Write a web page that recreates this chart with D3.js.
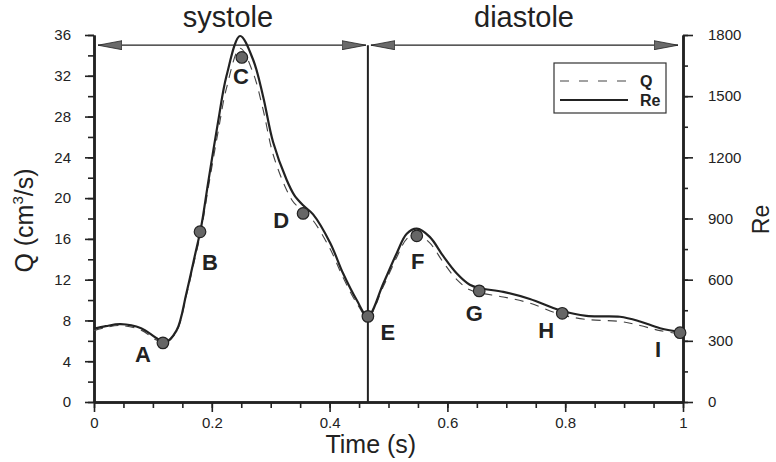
<!DOCTYPE html>
<html>
<head>
<meta charset="utf-8">
<script src="https://cdn.jsdelivr.net/npm/d3@7"></script>
<style>
  body { margin: 0; background: #fff; }
  svg { font-family: 'Liberation Sans', Arial, sans-serif; }
</style>
</head>
<body>
<svg width="776" height="462"></svg>
<script>
// time samples (s)
const time = [0, 0.02, 0.045, 0.08, 0.105, 0.12, 0.14, 0.157, 0.171, 0.182, 0.194, 0.211, 0.225, 0.248, 0.27, 0.287, 0.304, 0.327, 0.34, 0.355, 0.372, 0.401, 0.423, 0.446, 0.465, 0.491, 0.514, 0.531, 0.548, 0.57, 0.593, 0.616, 0.638, 0.655, 0.695, 0.74, 0.791, 0.836, 0.893, 0.927, 0.961, 1.0];
// Reynolds number (right axis)
const reValues = [360, 372, 382, 362, 315, 292, 350, 535, 715, 860, 1080, 1380, 1600, 1795, 1680, 1500, 1275, 1090, 1015, 965, 920, 780, 630, 500, 420, 580, 730, 825, 850, 810, 715, 630, 575, 558, 540, 505, 450, 422, 418, 395, 362, 342];
// flow rate Q (cm^3/s, left axis)
const qValues = [7.0, 7.3, 7.5, 7.05, 6.1, 5.75, 6.9, 10.5, 14.0, 16.8, 21.0, 26.6, 30.8, 34.7, 32.3, 28.7, 24.3, 20.8, 19.5, 18.8, 17.8, 15.0, 12.2, 9.7, 8.3, 11.3, 14.2, 16.0, 16.5, 15.6, 13.7, 12.0, 11.0, 10.7, 10.3, 9.7, 8.6, 8.1, 7.9, 7.5, 7.0, 6.65];

// marked instants A..I
const pointNames = ['A', 'B', 'C', 'D', 'E', 'F', 'G', 'H', 'I'];
const pointTimes = [0.117, 0.18, 0.251, 0.355, 0.465, 0.548, 0.654, 0.795, 0.995];
const pointQ = [5.8, 16.7, 33.8, 18.5, 8.4, 16.3, 10.9, 8.7, 6.8];

// phases
const phases = ['systole', 'diastole'];
const phaseBounds = [[0, 0.465], [0.465, 1]];
const arrowLevel = 35;

const xTicks = [0, 0.2, 0.4, 0.6, 0.8, 1];
const xMinor = d3.range(0, 1.001, 0.05);
const qTicks = d3.range(0, 37, 4);
const qMinor = d3.range(0, 37, 2);
const reTicks = d3.range(0, 1801, 300);
const reMinor = d3.range(0, 1801, 150);

const ink = '#222';
const svg = d3.select('svg');

const x = d3.scaleLinear().domain([0, 1]).range([94, 683]);
const y = d3.scaleLinear().domain([0, 36]).range([402, 35]);
const yRe = d3.scaleLinear().domain([0, 1800]).range([402, 35]);

// minor ticks first
svg.append('g')
  .attr('transform', `translate(0,${y(0)})`)
  .call(d3.axisBottom(x).tickValues(xMinor).tickSize(6).tickSizeOuter(0).tickFormat(''));
svg.append('g')
  .attr('transform', `translate(${x(0)},0)`)
  .call(d3.axisLeft(y).tickValues(qMinor).tickSize(6).tickSizeOuter(0).tickFormat(''));
svg.append('g')
  .attr('transform', `translate(${x(1)},0)`)
  .call(d3.axisRight(yRe).tickValues(reMinor).tickSize(5).tickSizeOuter(0).tickFormat(''));

// major axes
const xAxis = svg.append('g')
  .attr('transform', `translate(0,${y(0)})`)
  .call(d3.axisBottom(x).tickValues(xTicks).tickSize(10).tickPadding(5).tickSizeOuter(0)
    .tickFormat(d => d === 0 || d === 1 ? d : d3.format('.1f')(d)));
const qAxis = svg.append('g')
  .attr('transform', `translate(${x(0)},0)`)
  .call(d3.axisLeft(y).tickValues(qTicks).tickSize(9).tickPadding(14).tickSizeOuter(0));
const reAxis = svg.append('g')
  .attr('transform', `translate(${x(1)},0)`)
  .call(d3.axisRight(yRe).tickValues(reTicks).tickSize(10).tickPadding(15).tickSizeOuter(0)
    .tickFormat(d3.format('d')));

svg.selectAll('.domain').attr('stroke', ink).attr('stroke-width', 2.5);
svg.selectAll('.tick line').attr('stroke', ink).attr('stroke-width', 1.6);
[xAxis, qAxis, reAxis].forEach(a => a.selectAll('text')
  .attr('font-size', 15).attr('fill', ink).attr('font-family', "'Liberation Sans', Arial, sans-serif"));

// axis titles
svg.append('text')
  .attr('x', x(0.47))
  .attr('y', 453)
  .attr('text-anchor', 'middle')
  .attr('font-size', 25)
  .attr('fill', ink)
  .text('Time (s)');

const qLabel = svg.append('text')
  .attr('transform', `translate(33,${y(17.8)}) rotate(-90)`)
  .attr('text-anchor', 'middle')
  .attr('font-size', 25)
  .attr('fill', ink);
qLabel.append('tspan').text('Q (cm');
qLabel.append('tspan').attr('font-size', 15).attr('dy', -10).text('3');
qLabel.append('tspan').attr('dy', 10).text('/s)');

svg.append('text')
  .attr('transform', `translate(769,${yRe(900) + 1}) rotate(-90)`)
  .attr('text-anchor', 'middle')
  .attr('font-size', 23)
  .attr('fill', ink)
  .text('Re');

// phase arrows
svg.append('defs').append('marker')
  .attr('id', 'head')
  .attr('viewBox', '0 0 24 10')
  .attr('refX', 24).attr('refY', 5)
  .attr('markerWidth', 24).attr('markerHeight', 10)
  .attr('markerUnits', 'userSpaceOnUse')
  .attr('orient', 'auto-start-reverse')
  .append('path')
  .attr('d', 'M0,0.5L24,5L0,9.5Z')
  .attr('fill', '#6a6a6a')
  .attr('stroke', ink)
  .attr('stroke-width', 0.8);

svg.selectAll('.phase-arrow')
  .data(phaseBounds)
  .enter()
  .append('line')
  .attr('class', 'phase-arrow')
  .attr('x1', (d, i) => x(d[0]) + (i === 0 ? 4 : 3))
  .attr('x2', (d, i) => x(d[1]) - (i === 0 ? 2 : 5))
  .attr('y1', y(arrowLevel))
  .attr('y2', y(arrowLevel))
  .attr('stroke', ink)
  .attr('stroke-width', 1.2)
  .attr('marker-start', 'url(#head)')
  .attr('marker-end', 'url(#head)');

svg.selectAll('.phase-label')
  .data(phases)
  .enter()
  .append('text')
  .attr('class', 'phase-label')
  .attr('x', (d, i) => i === 0 ? 228 : 524)
  .attr('y', 27)
  .attr('text-anchor', 'middle')
  .attr('font-size', 29)
  .attr('fill', ink)
  .text(d => d);

// separator between phases
svg.append('line')
  .attr('x1', x(phaseBounds[0][1]))
  .attr('x2', x(phaseBounds[0][1]))
  .attr('y1', y(arrowLevel))
  .attr('y2', y(0))
  .attr('stroke', ink)
  .attr('stroke-width', 2);

// curves
const qLine = d3.line()
  .x((d, i) => x(time[i]))
  .y(d => y(d))
  .curve(d3.curveCatmullRom.alpha(0.5));
const reLine = d3.line()
  .x((d, i) => x(time[i]))
  .y(d => yRe(d))
  .curve(d3.curveCatmullRom.alpha(0.5));

svg.append('path')
  .attr('d', qLine(qValues))
  .attr('fill', 'none')
  .attr('stroke', '#444')
  .attr('stroke-width', 1.1)
  .attr('stroke-dasharray', '9,7');

svg.append('path')
  .attr('d', reLine(reValues))
  .attr('fill', 'none')
  .attr('stroke', ink)
  .attr('stroke-width', 2.2);

// points + labels
const labelOffsets = [[-20, 19], [10, 38], [-1, 27], [-22, 15], [20, 24], [1, 33], [-5, 30], [-16, 25], [-22, 24]];
const points = pointNames.map((name, i) => ({ name, t: pointTimes[i], q: pointQ[i], off: labelOffsets[i] }));

svg.selectAll('.pt')
  .data(points)
  .enter()
  .append('circle')
  .attr('class', 'pt')
  .attr('cx', d => x(d.t))
  .attr('cy', d => y(d.q))
  .attr('r', 5.8)
  .attr('fill', '#666')
  .attr('stroke', ink)
  .attr('stroke-width', 1.2);

svg.selectAll('.pt-label')
  .data(points)
  .enter()
  .append('text')
  .attr('class', 'pt-label')
  .attr('x', d => x(d.t) + d.off[0])
  .attr('y', d => y(d.q) + d.off[1])
  .attr('text-anchor', 'middle')
  .attr('font-size', 22)
  .attr('font-weight', 'bold')
  .attr('fill', ink)
  .text(d => d.name);

// legend
const legend = svg.append('g').attr('transform', 'translate(554,63)');
legend.append('rect')
  .attr('width', 112)
  .attr('height', 50)
  .attr('fill', '#fff')
  .attr('stroke', '#333')
  .attr('stroke-width', 1.2);
const legendKeys = [
  { label: 'Q', dash: '9,10', width: 1.1, color: '#444' },
  { label: 'Re', dash: null, width: 2.2, color: ink }
];
const item = legend.selectAll('g')
  .data(legendKeys)
  .enter()
  .append('g')
  .attr('transform', (d, i) => `translate(0,${18 + i * 19})`);
item.append('line')
  .attr('x1', 6).attr('x2', 74)
  .attr('stroke', d => d.color)
  .attr('stroke-width', d => d.width)
  .attr('stroke-dasharray', d => d.dash);
item.append('text')
  .attr('x', 86)
  .attr('y', 6)
  .attr('font-size', 16)
  .attr('font-weight', 'bold')
  .attr('fill', ink)
  .text(d => d.label);
</script>
</body>
</html>
